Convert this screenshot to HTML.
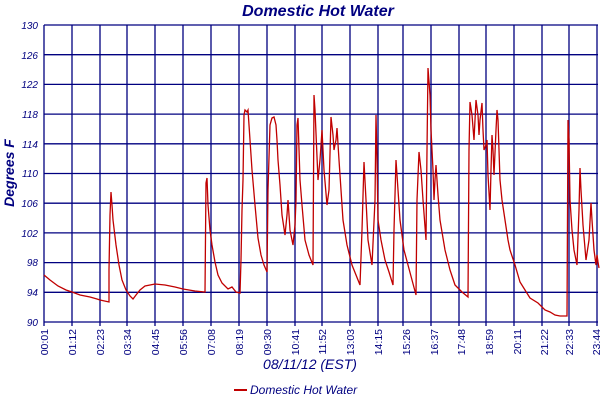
<!DOCTYPE html>
<html><head><meta charset="utf-8"><style>
html,body{margin:0;padding:0;background:#fff;width:600px;height:400px;overflow:hidden}
text{font-family:"Liberation Sans",sans-serif;font-style:italic;fill:#000080}
text.n{font-style:normal}
</style></head><body>
<svg width="600" height="400" viewBox="0 0 600 400" xmlns="http://www.w3.org/2000/svg">
<text x="318" y="16" font-size="16" font-weight="bold" text-anchor="middle">Domestic Hot Water</text>
<text transform="translate(14,173) rotate(-90)" font-size="14" font-weight="bold" text-anchor="middle">Degrees F</text>
<g stroke="#000080" stroke-width="1.3" fill="none">
<path d="M44,25H598M44,54.7H598M44,84.4H598M44,114.1H598M44,143.8H598M44,173.5H598M44,203.2H598M44,232.9H598M44,262.6H598M44,292.3H598M44,322H598"/>
<path d="M44,25V326M72,25V326M100,25V326M127,25V326M155,25V326M183,25V326M211,25V326M239,25V326M267,25V326M295,25V326M322,25V326M350,25V326M378,25V326M403,25V326M431,25V326M459,25V326M486,25V326M514,25V326M542,25V326M569,25V326M597,25V326"/>
</g>
<g font-size="10" text-anchor="end">
<text x="38" y="29">130</text><text x="38" y="59">126</text><text x="38" y="88">122</text><text x="38" y="118">118</text><text x="38" y="148">114</text><text x="38" y="177">110</text><text x="38" y="207">106</text><text x="38" y="237">102</text><text x="38" y="266">98</text><text x="38" y="296">94</text><text x="38" y="326">90</text>
</g>
<g font-size="10.5" text-anchor="end">
<text class="n" transform="translate(48,329) rotate(-90)">00:01</text>
<text class="n" transform="translate(76,329) rotate(-90)">01:12</text>
<text class="n" transform="translate(104,329) rotate(-90)">02:23</text>
<text class="n" transform="translate(131,329) rotate(-90)">03:34</text>
<text class="n" transform="translate(159,329) rotate(-90)">04:45</text>
<text class="n" transform="translate(187,329) rotate(-90)">05:56</text>
<text class="n" transform="translate(215,329) rotate(-90)">07:08</text>
<text class="n" transform="translate(243,329) rotate(-90)">08:19</text>
<text class="n" transform="translate(271,329) rotate(-90)">09:30</text>
<text class="n" transform="translate(299,329) rotate(-90)">10:41</text>
<text class="n" transform="translate(326,329) rotate(-90)">11:52</text>
<text class="n" transform="translate(354,329) rotate(-90)">13:03</text>
<text class="n" transform="translate(382,329) rotate(-90)">14:15</text>
<text class="n" transform="translate(410,329) rotate(-90)">15:26</text>
<text class="n" transform="translate(438,329) rotate(-90)">16:37</text>
<text class="n" transform="translate(465,329) rotate(-90)">17:48</text>
<text class="n" transform="translate(493,329) rotate(-90)">18:59</text>
<text class="n" transform="translate(521,329) rotate(-90)">20:11</text>
<text class="n" transform="translate(548,329) rotate(-90)">21:22</text>
<text class="n" transform="translate(573,329) rotate(-90)">22:33</text>
<text class="n" transform="translate(600,329) rotate(-90)">23:44</text>
</g>
<text x="310" y="369" font-size="14" text-anchor="middle">08/11/12 (EST)</text>
<line x1="234" y1="390" x2="247" y2="390" stroke="#c00000" stroke-width="2"/>
<text x="250" y="394" font-size="12">Domestic Hot Water</text>
<polyline fill="none" stroke="#c00000" stroke-width="1.3" points="44,275 50,280 58,286 66,290 72,292 80,295 90,297 97,299 100,300 109,302 109,270 110,215 111,192 112,205 113,220 116,245 119,265 122,280 126,290 130,296 133,299 136,295 140,290 145,286 150,285 155,284 165,285 175,287 183,289 195,291 205,292 206,183 207,178 208,205 210,230 212,245 215,262 218,275 222,283 228,289 232,287 236,292 240,293 241,260 242,210 243,180 244,115 245,110 247,112 248,110 250,140 252,170 255,205 258,238 261,255 264,265 267,272 268,190 270,125 272,118 274,117 276,125 277,140 278,160 280,185 282,215 285,235 287,215 288,200 290,230 293,245 295,225 296,200 297,125 298,118 300,180 302,205 305,240 309,255 313,265 314,95 315,110 318,180 320,160 322,130 324,170 327,205 329,190 331,117 333,135 334,150 336,140 337,128 339,160 343,220 347,245 352,265 356,275 360,285 362,230 364,162 366,200 368,240 372,265 375,200 376,115 377,160 378,220 381,240 385,260 389,272 393,285 394,230 396,160 398,190 400,220 404,250 408,265 412,280 416,295 417,200 419,152 421,170 423,200 426,240 427,150 428,68 430,95 431,130 433,170 434,200 435,180 436,165 438,195 440,220 445,250 450,270 455,285 462,292 468,297 469,150 470,102 472,115 474,140 475,120 476,100 478,115 479,135 480,120 482,103 483,130 484,150 486,145 487,140 488,175 490,210 491,170 492,135 493,150 494,175 496,130 497,110 498,120 500,180 502,200 505,220 508,240 510,250 515,265 520,282 525,290 530,298 538,303 545,310 550,312 555,315 560,316 567,316 568,120 569,140 570,200 572,230 574,250 577,265 579,210 580,168 581,190 583,225 586,260 589,240 591,203 592,220 594,250 596,265 597,255 598,262 599,268"/>
</svg>
</body></html>
